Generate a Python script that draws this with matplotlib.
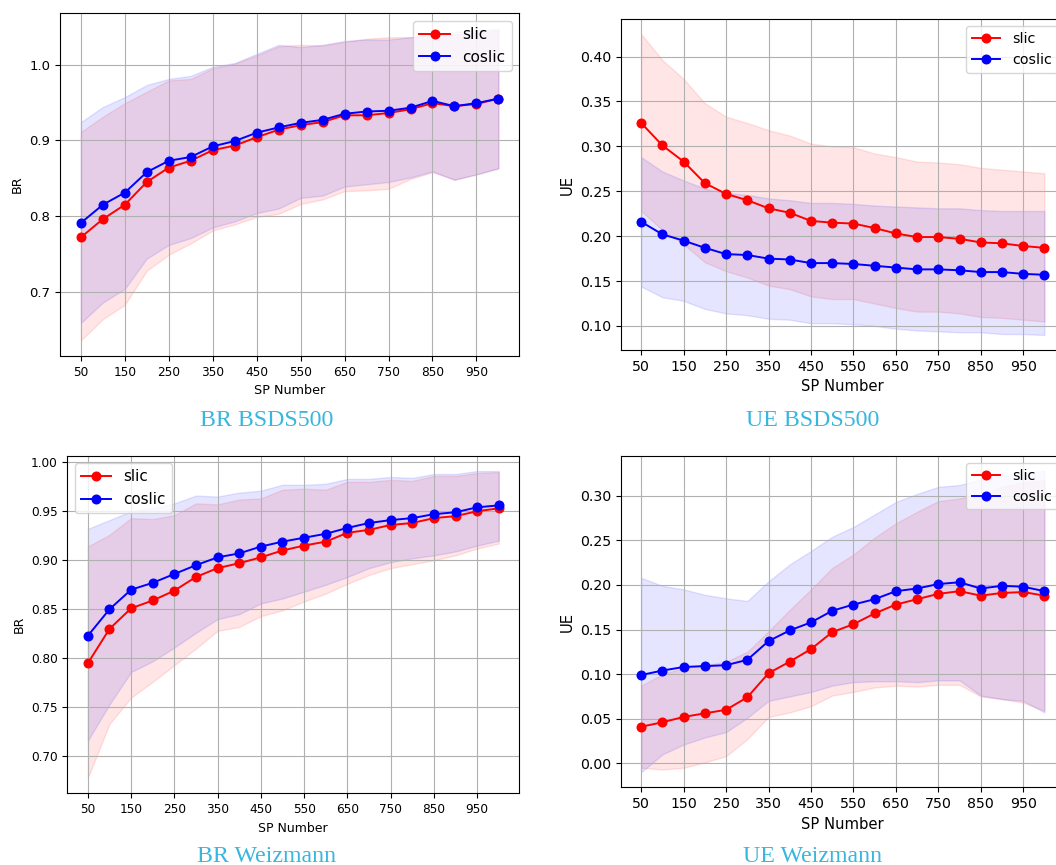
import matplotlib
matplotlib.use('Agg')
import matplotlib.pyplot as plt

# numero de superpixeles (eje x)
sp = [50, 100, 150, 200, 250, 300, 350, 400, 450, 500,
      550, 600, 650, 700, 750, 800, 850, 900, 950, 1000]
xticks = [50, 150, 250, 350, 450, 550, 650, 750, 850, 950]

# BR BSDS500
br_bsds_slic = [0.772, 0.796, 0.815, 0.845, 0.864, 0.873, 0.887, 0.893, 0.904, 0.914,
                0.920, 0.924, 0.933, 0.933, 0.936, 0.941, 0.949, 0.945, 0.948, 0.955]
br_bsds_slic_lo = [0.636, 0.664, 0.683, 0.728, 0.749, 0.764, 0.781, 0.789, 0.799, 0.803,
                   0.816, 0.822, 0.833, 0.834, 0.836, 0.849, 0.858, 0.848, 0.855, 0.863]
br_bsds_slic_hi = [0.911, 0.931, 0.949, 0.964, 0.979, 0.981, 0.995, 1.001, 1.012, 1.024,
                   1.026, 1.025, 1.030, 1.034, 1.036, 1.036, 1.038, 1.040, 1.042, 1.045]
br_bsds_coslic = [0.791, 0.815, 0.831, 0.858, 0.873, 0.878, 0.892, 0.899, 0.910, 0.917,
                  0.923, 0.927, 0.935, 0.938, 0.939, 0.943, 0.952, 0.945, 0.949, 0.955]
br_bsds_coslic_lo = [0.659, 0.686, 0.704, 0.744, 0.762, 0.771, 0.785, 0.793, 0.804, 0.810,
                     0.824, 0.827, 0.839, 0.842, 0.845, 0.851, 0.859, 0.848, 0.855, 0.863]
br_bsds_coslic_hi = [0.924, 0.944, 0.957, 0.973, 0.981, 0.985, 0.997, 1.002, 1.014, 1.026,
                     1.023, 1.026, 1.031, 1.033, 1.033, 1.036, 1.040, 1.043, 1.045, 1.047]

# UE BSDS500
ue_bsds_slic = [0.326, 0.301, 0.283, 0.259, 0.247, 0.240, 0.231, 0.226, 0.217, 0.215,
                0.214, 0.209, 0.203, 0.199, 0.199, 0.197, 0.193, 0.192, 0.189, 0.187]
ue_bsds_slic_lo = [0.228, 0.207, 0.191, 0.171, 0.161, 0.154, 0.145, 0.141, 0.133, 0.130,
                   0.130, 0.125, 0.120, 0.116, 0.116, 0.114, 0.110, 0.109, 0.107, 0.105]
ue_bsds_slic_hi = [0.425, 0.396, 0.375, 0.348, 0.333, 0.326, 0.318, 0.312, 0.303, 0.300,
                   0.299, 0.292, 0.288, 0.283, 0.282, 0.280, 0.276, 0.274, 0.272, 0.270]
ue_bsds_coslic = [0.216, 0.202, 0.195, 0.187, 0.180, 0.179, 0.175, 0.174, 0.170, 0.170,
                  0.169, 0.167, 0.165, 0.163, 0.163, 0.162, 0.160, 0.160, 0.158, 0.157]
ue_bsds_coslic_lo = [0.144, 0.132, 0.128, 0.119, 0.114, 0.112, 0.108, 0.107, 0.103, 0.103,
                     0.102, 0.100, 0.097, 0.095, 0.094, 0.093, 0.093, 0.091, 0.091, 0.090]
ue_bsds_coslic_hi = [0.288, 0.272, 0.262, 0.253, 0.248, 0.246, 0.242, 0.240, 0.237, 0.237,
                     0.236, 0.234, 0.233, 0.232, 0.231, 0.231, 0.229, 0.228, 0.228, 0.228]

# BR Weizmann
br_weiz_slic = [0.795, 0.830, 0.851, 0.859, 0.869, 0.883, 0.892, 0.897, 0.903, 0.910,
                0.915, 0.919, 0.928, 0.931, 0.936, 0.938, 0.943, 0.945, 0.950, 0.953]
br_weiz_slic_lo = [0.678, 0.733, 0.760, 0.776, 0.793, 0.810, 0.828, 0.832, 0.843, 0.849,
                   0.858, 0.866, 0.876, 0.885, 0.892, 0.896, 0.900, 0.905, 0.912, 0.917]
br_weiz_slic_hi = [0.914, 0.926, 0.943, 0.942, 0.946, 0.958, 0.957, 0.962, 0.963, 0.972,
                   0.973, 0.972, 0.980, 0.980, 0.982, 0.981, 0.986, 0.986, 0.989, 0.990]
br_weiz_coslic = [0.823, 0.850, 0.870, 0.877, 0.886, 0.895, 0.903, 0.907, 0.914, 0.919,
                  0.923, 0.927, 0.933, 0.938, 0.941, 0.943, 0.947, 0.949, 0.954, 0.956]
br_weiz_coslic_lo = [0.716, 0.753, 0.786, 0.797, 0.811, 0.826, 0.840, 0.845, 0.856, 0.861,
                     0.868, 0.875, 0.883, 0.892, 0.898, 0.902, 0.905, 0.909, 0.915, 0.920]
br_weiz_coslic_hi = [0.932, 0.941, 0.950, 0.953, 0.958, 0.966, 0.965, 0.969, 0.971, 0.977,
                     0.977, 0.978, 0.983, 0.983, 0.985, 0.984, 0.988, 0.988, 0.991, 0.991]

# UE Weizmann
ue_weiz_slic = [0.041, 0.046, 0.052, 0.056, 0.060, 0.074, 0.101, 0.114, 0.128, 0.147,
                0.156, 0.168, 0.178, 0.184, 0.190, 0.193, 0.188, 0.191, 0.192, 0.188]
ue_weiz_slic_lo = [-0.005, -0.007, -0.005, 0.001, 0.008, 0.027, 0.052, 0.057, 0.064, 0.076,
                   0.080, 0.085, 0.087, 0.086, 0.088, 0.088, 0.075, 0.072, 0.068, 0.059]
ue_weiz_slic_hi = [0.087, 0.100, 0.107, 0.110, 0.114, 0.125, 0.148, 0.172, 0.195, 0.219,
                   0.234, 0.253, 0.269, 0.282, 0.294, 0.297, 0.301, 0.310, 0.315, 0.317]
ue_weiz_coslic = [0.099, 0.104, 0.108, 0.109, 0.110, 0.116, 0.137, 0.149, 0.158, 0.171,
                  0.178, 0.184, 0.193, 0.196, 0.201, 0.203, 0.196, 0.199, 0.198, 0.193]
ue_weiz_coslic_lo = [-0.010, 0.010, 0.021, 0.029, 0.035, 0.051, 0.070, 0.075, 0.080, 0.087,
                     0.091, 0.092, 0.092, 0.091, 0.093, 0.093, 0.076, 0.072, 0.070, 0.057]
ue_weiz_coslic_hi = [0.208, 0.199, 0.195, 0.189, 0.185, 0.182, 0.204, 0.223, 0.238, 0.254,
                     0.265, 0.279, 0.293, 0.302, 0.310, 0.312, 0.318, 0.322, 0.325, 0.328]

W, H = 1056, 865
fig = plt.figure(figsize=(W / 100, H / 100), dpi=100)

caption_color = '#38b6dd'


def caja(x0, x1, y0, y1):
    # pixeles -> coordenadas de figura
    return [x0 / W, 1 - y1 / H, (x1 - x0) / W, (y1 - y0) / H]


def panel(pos, ylabel, slic, slic_lo, slic_hi, coslic, co_lo, co_hi,
          loc, fs_xt, fs_yt, fs_lab, fs_leg):
    ax = fig.add_axes(pos)
    ax.fill_between(sp, slic_lo, slic_hi, color='red', alpha=0.1)
    ax.fill_between(sp, co_lo, co_hi, color='blue', alpha=0.1)
    ax.plot(sp, slic, color='red', marker='o', markersize=6.2, linewidth=1.4, label='slic')
    ax.plot(sp, coslic, color='blue', marker='o', markersize=6.2, linewidth=1.4, label='coslic')
    ax.set_xticks(xticks)
    ax.grid(True)
    ax.tick_params(axis='x', labelsize=fs_xt)
    ax.tick_params(axis='y', labelsize=fs_yt)
    ax.set_xlabel('SP Number', fontsize=fs_lab)
    ax.set_ylabel(ylabel, fontsize=fs_lab)
    ax.legend(loc=loc, fontsize=fs_leg)
    return ax


panel(caja(60, 519.3, 13.3, 356), 'BR',
      br_bsds_slic, br_bsds_slic_lo, br_bsds_slic_hi,
      br_bsds_coslic, br_bsds_coslic_lo, br_bsds_coslic_hi,
      'upper right', 8.7, 9.5, 9.2, 11.1)
panel(caja(621, 1064.6, 19, 350), 'UE',
      ue_bsds_slic, ue_bsds_slic_lo, ue_bsds_slic_hi,
      ue_bsds_coslic, ue_bsds_coslic_lo, ue_bsds_coslic_hi,
      'upper right', 10.2, 10.2, 10.6, 10.3)
panel(caja(67.3, 519.3, 455.7, 793.3), 'BR',
      br_weiz_slic, br_weiz_slic_lo, br_weiz_slic_hi,
      br_weiz_coslic, br_weiz_coslic_lo, br_weiz_coslic_hi,
      'upper left', 8.7, 8.7, 9.0, 10.9)
panel(caja(621, 1064.6, 455.7, 787.3), 'UE',
      ue_weiz_slic, ue_weiz_slic_lo, ue_weiz_slic_hi,
      ue_weiz_coslic, ue_weiz_coslic_lo, ue_weiz_coslic_hi,
      'upper right', 10.2, 10.2, 10.6, 10.3)

# titulos debajo de cada grafico
captions = ['BR BSDS500', 'UE BSDS500', 'BR Weizmann', 'UE Weizmann']
cap_xy = [(266.7, 420.7), (813, 420.7), (266.7, 856.5), (813, 856.5)]
for txt, (cx, cy) in zip(captions, cap_xy):
    fig.text(cx / W, 1 - cy / H, txt, ha='center', va='center',
             family='Liberation Serif', fontsize=17.2, color=caption_color)

fig.savefig('out.png', dpi=100)
